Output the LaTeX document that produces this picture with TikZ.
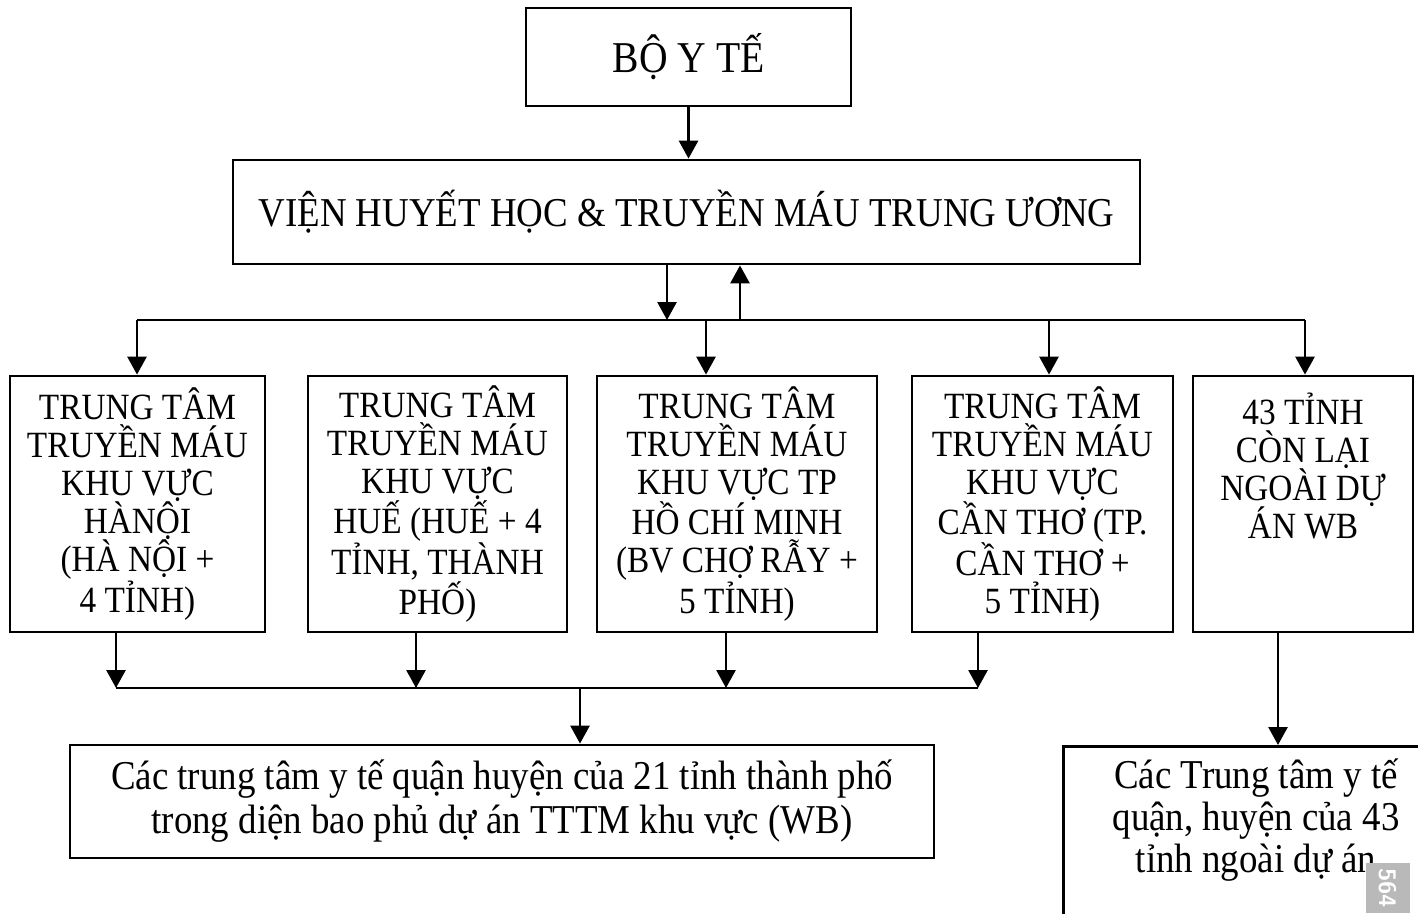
\documentclass[tikz,border=0pt]{standalone}
\usepackage{fontspec}
\setmainfont[FakeStretch=0.9]{Liberation Serif}
\usetikzlibrary{arrows.meta}
\begin{document}
\begin{tikzpicture}[x=1pt,y=-1pt,
  box/.style={draw, line width=2.8pt, rectangle, inner sep=0pt, align=center},
  capsA/.style={font=\fontsize{37}{38}\selectfont},
  arr/.style={line width=2.8pt, -{Triangle[length=18pt,width=19pt]}},
  ln/.style={line width=2.8pt}]
\useasboundingbox (0,0) rectangle (1418,913);
% top
\node[box, minimum width=325pt, minimum height=98pt, font=\fontsize{44}{46}\selectfont] (boyte) at (688.5,57) {BỘ Y TẾ};
\node[box, minimum width=907pt, minimum height=104pt, font=\fontsize{41}{44}\selectfont] (vien) at (686.5,212) {VIỆN HUYẾT HỌC \& TRUYỀN MÁU TRUNG ƯƠNG};
% middle row
\node[box, capsA, minimum width=255pt, minimum height=256pt] (b1) at (137.5,504) {TRUNG TÂM\\TRUYỀN MÁU\\KHU VỰC\\HÀNỘI\\(HÀ NỘI +\\4 TỈNH)};
\node[box, capsA, minimum width=259pt, minimum height=256pt] (b2) at (437.5,504) {TRUNG TÂM\\TRUYỀN MÁU\\KHU VỰC\\HUẾ (HUẾ + 4\\TỈNH, THÀNH\\PHỐ)};
\node[box, capsA, minimum width=280pt, minimum height=256pt] (b3) at (737,504) {TRUNG TÂM\\TRUYỀN MÁU\\KHU VỰC TP\\HỒ CHÍ MINH\\(BV CHỢ RẪY +\\5 TỈNH)};
\node[box, capsA, minimum width=261pt, minimum height=256pt] (b4) at (1042.5,504) {TRUNG TÂM\\TRUYỀN MÁU\\KHU VỰC\\CẦN THƠ (TP.\\CẦN THƠ +\\5 TỈNH)};
\node[box, capsA, minimum width=220pt, minimum height=256pt] (b5) at (1303,504) {43 TỈNH\\CÒN LẠI\\NGOÀI DỰ\\ÁN WB\\~\\~};
% bottom
\node[box, minimum width=864pt, minimum height=113pt, font=\fontsize{41}{44}\selectfont] (b6) at (502,801.5) {Các trung tâm y tế quận huyện của 21 tỉnh thành phố\\trong diện bao phủ dự án TTTM khu vực (WB)};
\node[box, minimum width=388pt, minimum height=215pt, anchor=north west] (b7) at (1062,745) {};
\node[align=center, inner sep=0pt, font=\fontsize{41}{42}\selectfont] (b7t) at (1256,820) {Các Trung tâm y tế\\quận, huyện của 43\\tỉnh ngoài dự án};
% watermark
\node[fill=gray!55, minimum width=44pt, minimum height=50pt, inner sep=0pt, anchor=south west, text=white, font=\fontsize{24}{24}\selectfont\sffamily\bfseries] (wm) at (1366,913) {\rotatebox{-90}{564}};
% coordinates
\coordinate (vd) at (667,320);
\coordinate (vu) at (740,320);
\coordinate (busL) at (137,320);
\coordinate (busR) at (1305,320);
\coordinate (t3) at (706,320);
\coordinate (t4) at (1049,320);
\coordinate (c1) at (116,688);
\coordinate (c2) at (416,688);
\coordinate (c3) at (726,688);
\coordinate (c4) at (978,688);
\coordinate (c5) at (580,688);
\coordinate (c7) at (1278,745);
% connectors
\draw[arr] (boyte.south) -- (boyte.south |- vien.north);
\draw[arr] (vien.south -| vd) -- (vd);
\draw[arr] (vu) -- (vien.south -| vu);
\draw[ln] (busL) -- (busR);
\draw[arr] (busL) -- (busL |- b1.north);
\draw[arr] (t3) -- (t3 |- b3.north);
\draw[arr] (t4) -- (t4 |- b4.north);
\draw[arr] (busR) -- (busR |- b5.north);
\draw[arr] (b1.south -| c1) -- (c1);
\draw[arr] (b2.south -| c2) -- (c2);
\draw[arr] (b3.south -| c3) -- (c3);
\draw[arr] (b4.south -| c4) -- (c4);
\draw[ln] (c1) -- (c4);
\draw[arr] (c5) -- (c5 |- b6.north);
\draw[arr] (b5.south -| c7) -- (c7);
\end{tikzpicture}
\end{document}
